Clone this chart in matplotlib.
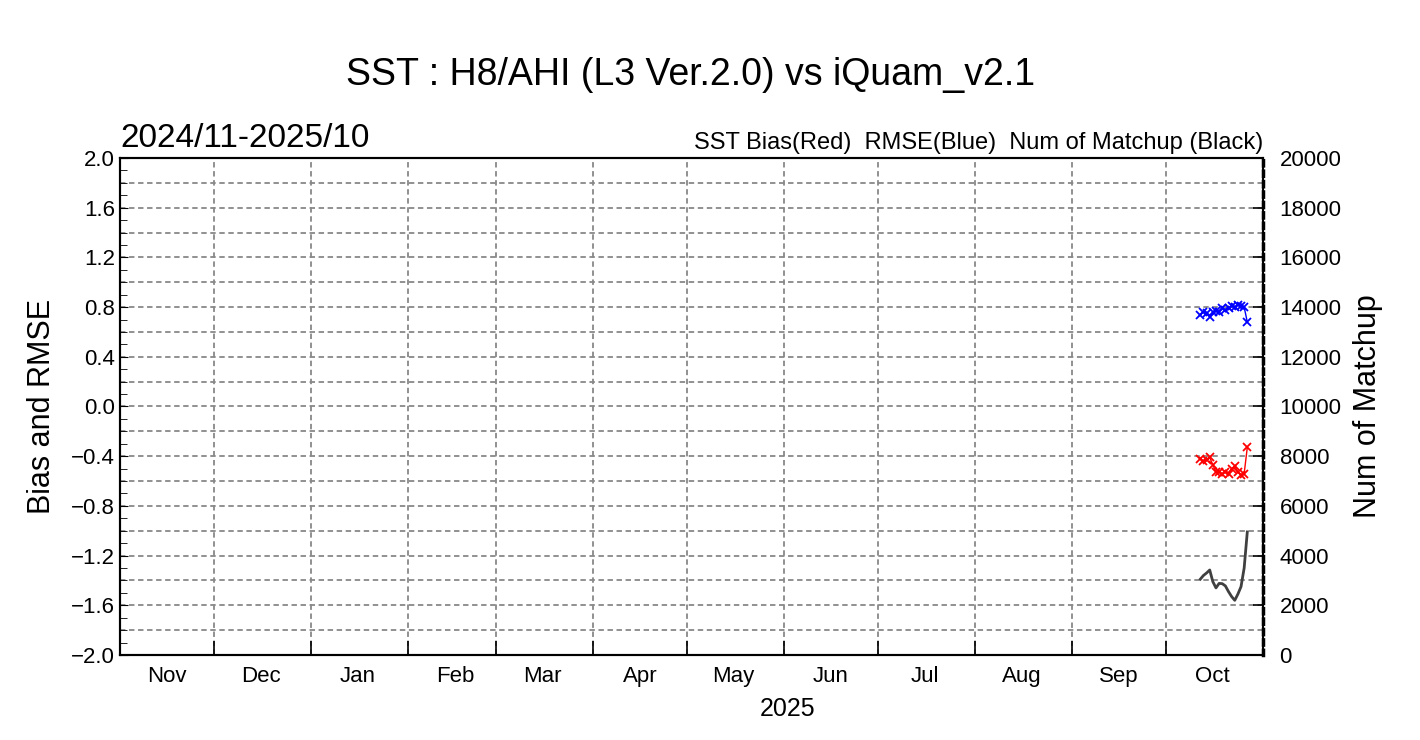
import datetime as dt
import numpy as np
import matplotlib
matplotlib.use("Agg")
from matplotlib import pyplot as plt
import matplotlib.dates as mdates

plt.rcParams['font.family'] = ['Liberation Sans', 'DejaVu Sans']

# daily matchup statistics, Oct 2025
days = [dt.date(2025, 10, d) for d in range(12, 28)]
bias = [-0.42, -0.44, -0.43, -0.41, -0.47, -0.53, -0.53, -0.54,
        -0.53, -0.54, -0.50, -0.48, -0.53, -0.55, -0.54, -0.33]
rmse = [0.74, 0.76, 0.75, 0.72, 0.76, 0.77, 0.76, 0.79,
        0.78, 0.79, 0.81, 0.80, 0.82, 0.81, 0.80, 0.68]
matchup = [3050, 3200, 3300, 3420, 2950, 2700, 2880, 2870,
           2780, 2550, 2350, 2200, 2450, 2750, 3500, 4950]

month_labels = ['Nov', 'Dec', 'Jan', 'Feb', 'Mar', 'Apr', 'May', 'Jun',
                'Jul', 'Aug', 'Sep', 'Oct']

fig = plt.figure(figsize=(14.2, 7.4), dpi=100)
ax = fig.add_axes([0.0845, 0.1149, 0.8049, 0.6716])
ax2 = ax.twinx()

x0 = dt.date(2024, 11, 1)
x1 = dt.date(2025, 11, 1)
ax.set_xlim(x0, x1)
ax.set_ylim(-2.0, 2.0)
ax2.set_ylim(0, 20000)

grid_kw = dict(color='#888888', lw=1.3, ls=(0, (3, 2)), zorder=0)
for v in np.arange(-1.8, 2.0, 0.2):
    ax.axhline(v, **grid_kw)
months = [dt.date(2024 + (10 + i) // 12, (10 + i) % 12 + 1, 1) for i in range(1, 12)]
for m in months:
    ax.axvline(m, **grid_kw)

ax2.plot(days, matchup, color='#404040', lw=2)
ax.plot(days, rmse, color='blue', lw=1, marker='x', ms=6, mew=1.3)
ax.plot(days, bias, color='red', lw=1, marker='x', ms=6, mew=1.3)

ax.xaxis.set_major_locator(mdates.MonthLocator(bymonthday=1))
ax.xaxis.set_major_formatter(plt.NullFormatter())
ax.set_xticks([dt.date(2024 + (10 + i) // 12, (10 + i) % 12 + 1, 16) for i in range(12)],
              month_labels, minor=True)
ax.tick_params(axis='x', which='major', direction='in', length=10, width=1.2)
ax.tick_params(axis='x', which='minor', length=0, labelsize=16, pad=8)

yt = np.round(np.arange(-2.0, 2.01, 0.4), 1)
ax.set_yticks(yt)
ax.set_yticklabels([f'{v:.1f}'.replace('-', '\u2212') if v != 0 else '0.0' for v in yt])
ax.set_yticks(np.arange(-2.0, 2.01, 0.1), minor=True)
ax.tick_params(axis='y', which='major', direction='in', length=6, labelsize=16)
ax.tick_params(axis='y', which='minor', direction='in', length=5)

ax2.set_yticks(np.arange(0, 20001, 2000))
ax2.tick_params(axis='y', direction='in', length=7, width=1.2, labelsize=16, pad=12)

for a in (ax, ax2):
    for s in a.spines.values():
        s.set_linewidth(1.5)
ax2.spines['right'].set_linestyle((0, (1.5, 1.5)))
ax2.spines['right'].set_linewidth(2.5)

ax.set_ylabel('Bias and RMSE', fontsize=22, labelpad=10)
ax2.set_ylabel('Num of Matchup', fontsize=22, labelpad=8)

ax.text(0.584, -0.085, '2025', transform=ax.transAxes, ha='center', va='top', fontsize=18)
ax.text(0.0, 1.008, '2024/11-2025/10', transform=ax.transAxes, ha='left', va='bottom', fontsize=24)
ax.text(1.0, 1.008, 'SST Bias(Red)  RMSE(Blue)  Num of Matchup (Black)',
        transform=ax.transAxes, ha='right', va='bottom', fontsize=17)
fig.text(0.486, 0.898, 'SST : H8/AHI (L3 Ver.2.0) vs iQuam_v2.1', ha='center', va='center',
         fontsize=27)

fig.savefig('out.png', dpi=100)
